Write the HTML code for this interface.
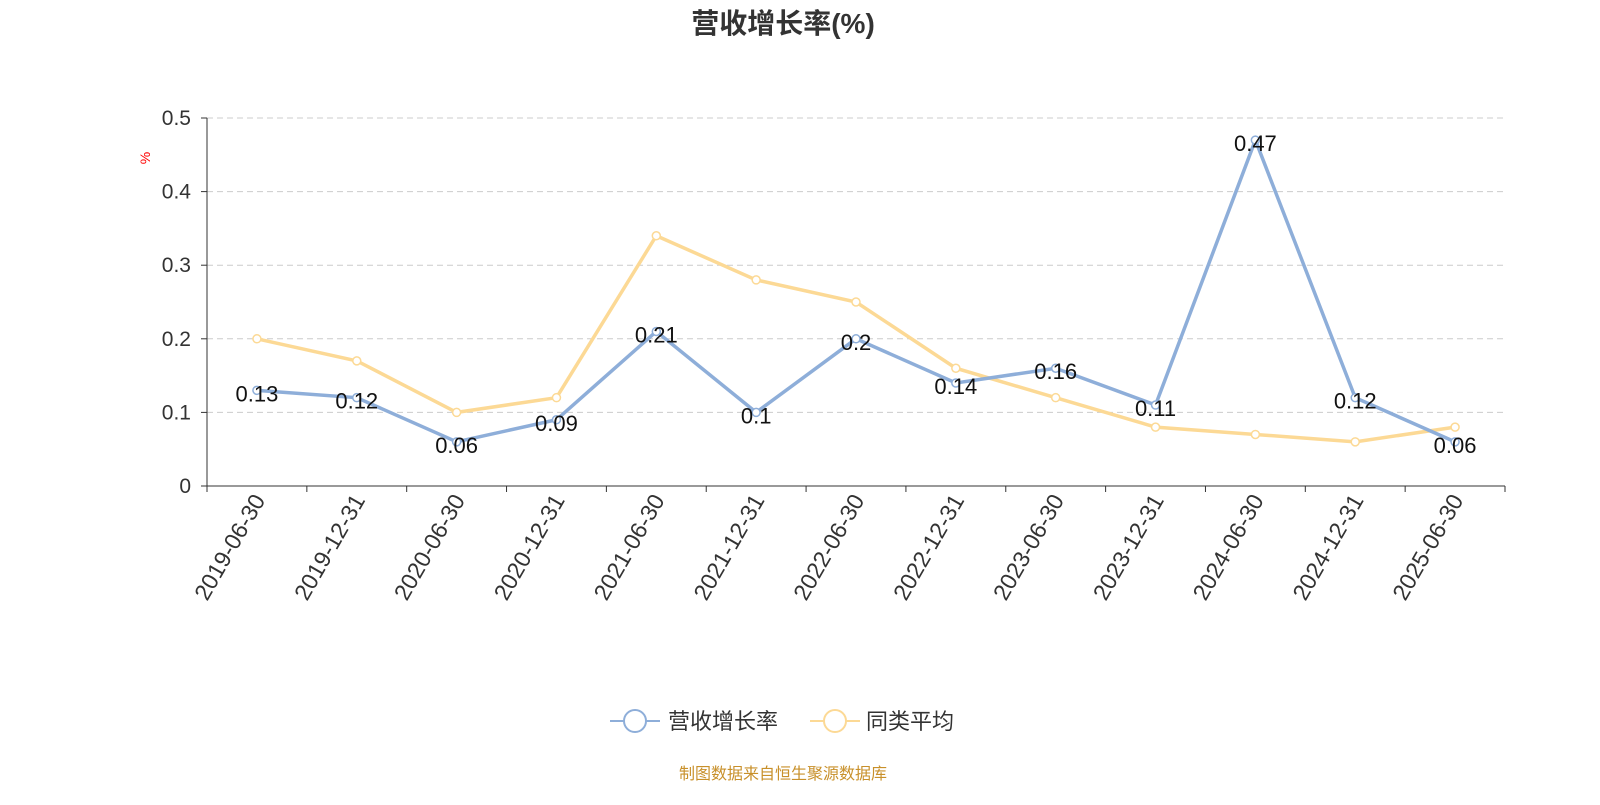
<!DOCTYPE html>
<html><head><meta charset="utf-8"><style>
body{margin:0;background:#fff;}
svg text{font-family:"Liberation Sans","Noto Sans CJK SC",sans-serif;}
</style></head><body>
<svg id="chart" width="1600" height="800" xmlns="http://www.w3.org/2000/svg">
<text x="783" y="33" text-anchor="middle" font-size="28" font-weight="bold" fill="#333">营收增长率(%)</text>
<text x="150" y="158" font-size="14" fill="red" transform="rotate(-90 150 158)" text-anchor="middle">%</text>
<g id="grid"></g><g id="axes"></g><g id="series"></g><g id="labels"></g>
<g>
<g>
<line x1="610" y1="721" x2="660" y2="721" stroke="#8eaed9" stroke-width="2"/>
<circle cx="635" cy="721" r="11" fill="#fff" stroke="#8eaed9" stroke-width="2"/>
<text x="668" y="729" font-size="22" fill="#333">营收增长率</text></g>
<g>
<line x1="810" y1="721" x2="860" y2="721" stroke="#fcd995" stroke-width="2"/>
<circle cx="835" cy="721" r="11" fill="#fff" stroke="#fcd995" stroke-width="2"/>
<text x="866" y="729" font-size="22" fill="#333">同类平均</text></g>
</g>
<text x="783" y="779" text-anchor="middle" font-size="16" fill="#c8902a">制图数据来自恒生聚源数据库</text>
</svg>
<script>
const categories=["2019-06-30","2019-12-31","2020-06-30","2020-12-31","2021-06-30","2021-12-31","2022-06-30","2022-12-31","2023-06-30","2023-12-31","2024-06-30","2024-12-31","2025-06-30"];
const revenueGrowth=[0.13,0.12,0.06,0.09,0.21,0.1,0.2,0.14,0.16,0.11,0.47,0.12,0.06];
const peerAverage=[0.2,0.17,0.1,0.12,0.34,0.28,0.25,0.16,0.12,0.08,0.07,0.06,0.08];
const yTicks=[0,0.1,0.2,0.3,0.4,0.5];
const NS="http://www.w3.org/2000/svg";
const x0=207,x1=1505,y0=486,y1=118;
const bw=(x1-x0)/categories.length;
const X=i=>x0+bw*(i+0.5);
const Y=v=>y0-(v/0.5)*(y0-y1);
function mk(t,a,p){const e=document.createElementNS(NS,t);for(const k in a)e.setAttribute(k,a[k]);p.appendChild(e);return e;}
const grid=document.getElementById('grid'),axes=document.getElementById('axes'),ser=document.getElementById('series'),lab=document.getElementById('labels');
yTicks.forEach(v=>{
 if(v>0){const g=mk('line',{x1:x0,x2:x1,y1:Y(v),y2:Y(v),stroke:'#ccc','stroke-dasharray':'6,4'},grid);
 
 }
 const t=mk('text',{x:x0-16,y:Y(v)+7,'text-anchor':'end','font-size':21,fill:'#333'},axes);t.textContent=String(v);
 
 
 mk('line',{x1:x0-6,x2:x0,y1:Y(v),y2:Y(v),stroke:'#333'},axes);
});
mk('line',{x1:x0,x2:x0,y1:y1,y2:y0,stroke:'#333'},axes);
mk('line',{x1:x0,x2:x1,y1:y0,y2:y0,stroke:'#333'},axes);
for(let i=0;i<=categories.length;i++)mk('line',{x1:x0+bw*i,x2:x0+bw*i,y1:y0,y2:y0+6,stroke:'#333'},axes);
categories.forEach((c,i)=>{const x=X(i)+9,y=y0+14;
 const t=mk('text',{x:x,y:y,'text-anchor':'end','font-size':23,fill:'#333',transform:`rotate(-60 ${x} ${y})`},axes);t.textContent=c;
 
 });
function draw(vals,color,name,labels){
 const p=mk('polyline',{points:vals.map((v,i)=>X(i)+','+Y(v)).join(' '),fill:'none',stroke:color,'stroke-width':3.5},ser);
 
 
 vals.forEach((v,i)=>{const c=mk('circle',{cx:X(i),cy:Y(v),r:4,fill:'#fff',stroke:color,'stroke-width':1.5},ser);
  
  
  if(labels){const t=mk('text',{x:X(i),y:Y(v)+11,'text-anchor':'middle','font-size':22,fill:'#111'},lab);t.textContent=String(v);
  
  }});
}
draw(peerAverage,'#fcd995','peer-average',false);
draw(revenueGrowth,'#8eaed9','revenue-growth',true);
</script>
</body></html>
